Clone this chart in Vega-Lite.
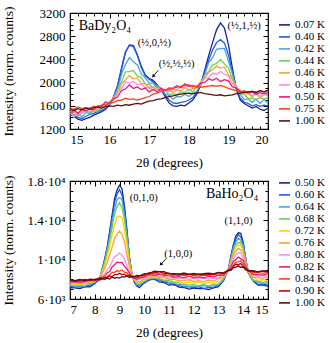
{
"$schema": "https://vega.github.io/schema/vega-lite/v6.json",
"padding": {"left": 0, "top": 5, "right": 2, "bottom": 2},
"config": {
 "font": "Liberation Serif",
 "view": {"stroke": "black", "strokeWidth": 1.2},
 "axis": {"domain": false, "grid": false, "tickColor": "black", "tickWidth": 1, "labelColor": "black", "titleColor": "black", "labelFont": "Liberation Serif", "titleFont": "Liberation Serif", "labelFontSize": 13, "titleFontSize": 13.5, "titleFontWeight": "normal"},
 "legend": {"symbolType": "stroke", "symbolSize": 121, "symbolStrokeWidth": 1.6, "labelFont": "Liberation Serif", "labelFontSize": 11, "labelColor": "black", "rowPadding": 0, "labelOffset": 4, "padding": 0, "labelLimit": 100}
},
"datasets": {
 "dyframe": [{"x": 15, "y": 1200}],
 "hoframe": [{"x": 7, "y": 6000}],
 "dyname": [{"x": 15.22, "y": 2980, "label": "BaDy₂O₄"}],
 "honame": [{"x": 12.49, "y": 16650, "label": "BaHo₂O₄"}],
 "dylab": [{"x": 16.71, "y": 2688, "label": "(½,0,½)"}, {"x": 17.24, "y": 2315, "label": "(½,½,½)"}, {"x": 18.98, "y": 2976, "label": "(½,1,½)"}],
 "holab": [{"x": 9.41, "y": 16256, "label": "(0,1,0)"}, {"x": 13.24, "y": 13969, "label": "(1,1,0)"}, {"x": 10.81, "y": 10544, "label": "(1,0,0)"}],
 "dyarr": [{"x": 17.23, "y": 2212, "x2": 17.1, "y2": 2109}],
 "hoarr": [{"x": 10.88, "y": 10100, "x2": 10.67, "y2": 9520}],
 "dy": [
{"T":"0.07 K","x":15,"y":1460},{"T":"0.07 K","x":15.1,"y":1420},{"T":"0.07 K","x":15.2,"y":1370},{"T":"0.07 K","x":15.3,"y":1350},{"T":"0.07 K","x":15.4,"y":1380},{"T":"0.07 K","x":15.5,"y":1400},{"T":"0.07 K","x":15.6,"y":1440},{"T":"0.07 K","x":15.7,"y":1470},{"T":"0.07 K","x":15.8,"y":1500},{"T":"0.07 K","x":15.9,"y":1540},
{"T":"0.07 K","x":16,"y":1610},{"T":"0.07 K","x":16.1,"y":1740},{"T":"0.07 K","x":16.2,"y":1920},{"T":"0.07 K","x":16.3,"y":2230},{"T":"0.07 K","x":16.4,"y":2520},{"T":"0.07 K","x":16.5,"y":2650},{"T":"0.07 K","x":16.6,"y":2640},{"T":"0.07 K","x":16.7,"y":2480},{"T":"0.07 K","x":16.8,"y":2280},{"T":"0.07 K","x":16.9,"y":2130},
{"T":"0.07 K","x":17,"y":2070},{"T":"0.07 K","x":17.1,"y":2040},{"T":"0.07 K","x":17.2,"y":1960},{"T":"0.07 K","x":17.3,"y":1880},{"T":"0.07 K","x":17.4,"y":1760},{"T":"0.07 K","x":17.5,"y":1650},{"T":"0.07 K","x":17.6,"y":1600},{"T":"0.07 K","x":17.7,"y":1590},{"T":"0.07 K","x":17.8,"y":1610},{"T":"0.07 K","x":17.9,"y":1600},
{"T":"0.07 K","x":18,"y":1650},{"T":"0.07 K","x":18.1,"y":1700},{"T":"0.07 K","x":18.2,"y":1800},{"T":"0.07 K","x":18.3,"y":1960},{"T":"0.07 K","x":18.4,"y":2210},{"T":"0.07 K","x":18.5,"y":2460},{"T":"0.07 K","x":18.6,"y":2690},{"T":"0.07 K","x":18.7,"y":2910},{"T":"0.07 K","x":18.8,"y":3030},{"T":"0.07 K","x":18.9,"y":2940},
{"T":"0.07 K","x":19,"y":2660},{"T":"0.07 K","x":19.1,"y":2250},{"T":"0.07 K","x":19.2,"y":1880},{"T":"0.07 K","x":19.3,"y":1700},{"T":"0.07 K","x":19.4,"y":1640},{"T":"0.07 K","x":19.5,"y":1600},{"T":"0.07 K","x":19.6,"y":1560},{"T":"0.07 K","x":19.7,"y":1590},{"T":"0.07 K","x":19.8,"y":1540},{"T":"0.07 K","x":19.9,"y":1520},{"T":"0.07 K","x":20,"y":1560},
{"T":"0.40 K","x":15,"y":1430},{"T":"0.40 K","x":15.1,"y":1440},{"T":"0.40 K","x":15.2,"y":1400},{"T":"0.40 K","x":15.3,"y":1380},{"T":"0.40 K","x":15.4,"y":1420},{"T":"0.40 K","x":15.5,"y":1450},{"T":"0.40 K","x":15.6,"y":1470},{"T":"0.40 K","x":15.7,"y":1500},{"T":"0.40 K","x":15.8,"y":1520},{"T":"0.40 K","x":15.9,"y":1560},
{"T":"0.40 K","x":16,"y":1620},{"T":"0.40 K","x":16.1,"y":1760},{"T":"0.40 K","x":16.2,"y":1950},{"T":"0.40 K","x":16.3,"y":2250},{"T":"0.40 K","x":16.4,"y":2530},{"T":"0.40 K","x":16.5,"y":2640},{"T":"0.40 K","x":16.6,"y":2620},{"T":"0.40 K","x":16.7,"y":2470},{"T":"0.40 K","x":16.8,"y":2260},{"T":"0.40 K","x":16.9,"y":2120},
{"T":"0.40 K","x":17,"y":2060},{"T":"0.40 K","x":17.1,"y":2010},{"T":"0.40 K","x":17.2,"y":1950},{"T":"0.40 K","x":17.3,"y":1880},{"T":"0.40 K","x":17.4,"y":1790},{"T":"0.40 K","x":17.5,"y":1700},{"T":"0.40 K","x":17.6,"y":1650},{"T":"0.40 K","x":17.7,"y":1640},{"T":"0.40 K","x":17.8,"y":1660},{"T":"0.40 K","x":17.9,"y":1670},
{"T":"0.40 K","x":18,"y":1700},{"T":"0.40 K","x":18.1,"y":1740},{"T":"0.40 K","x":18.2,"y":1830},{"T":"0.40 K","x":18.3,"y":1960},{"T":"0.40 K","x":18.4,"y":2180},{"T":"0.40 K","x":18.5,"y":2380},{"T":"0.40 K","x":18.6,"y":2560},{"T":"0.40 K","x":18.7,"y":2690},{"T":"0.40 K","x":18.8,"y":2740},{"T":"0.40 K","x":18.9,"y":2680},
{"T":"0.40 K","x":19,"y":2480},{"T":"0.40 K","x":19.1,"y":2180},{"T":"0.40 K","x":19.2,"y":1900},{"T":"0.40 K","x":19.3,"y":1730},{"T":"0.40 K","x":19.4,"y":1660},{"T":"0.40 K","x":19.5,"y":1640},{"T":"0.40 K","x":19.6,"y":1600},{"T":"0.40 K","x":19.7,"y":1620},{"T":"0.40 K","x":19.8,"y":1590},{"T":"0.40 K","x":19.9,"y":1610},{"T":"0.40 K","x":20,"y":1600},
{"T":"0.42 K","x":15,"y":1510},{"T":"0.42 K","x":15.1,"y":1440},{"T":"0.42 K","x":15.2,"y":1460},{"T":"0.42 K","x":15.3,"y":1410},{"T":"0.42 K","x":15.4,"y":1485},{"T":"0.42 K","x":15.5,"y":1460},{"T":"0.42 K","x":15.6,"y":1515},{"T":"0.42 K","x":15.7,"y":1500},{"T":"0.42 K","x":15.8,"y":1560},{"T":"0.42 K","x":15.9,"y":1610},
{"T":"0.42 K","x":16,"y":1620},{"T":"0.42 K","x":16.1,"y":1745},{"T":"0.42 K","x":16.2,"y":1875},{"T":"0.42 K","x":16.3,"y":2140},{"T":"0.42 K","x":16.4,"y":2310},{"T":"0.42 K","x":16.5,"y":2430},{"T":"0.42 K","x":16.6,"y":2360},{"T":"0.42 K","x":16.7,"y":2305},{"T":"0.42 K","x":16.8,"y":2150},{"T":"0.42 K","x":16.9,"y":2085},
{"T":"0.42 K","x":17,"y":1990},{"T":"0.42 K","x":17.1,"y":1990},{"T":"0.42 K","x":17.2,"y":1910},{"T":"0.42 K","x":17.3,"y":1910},{"T":"0.42 K","x":17.4,"y":1805},{"T":"0.42 K","x":17.5,"y":1780},{"T":"0.42 K","x":17.6,"y":1715},{"T":"0.42 K","x":17.7,"y":1760},{"T":"0.42 K","x":17.8,"y":1755},{"T":"0.42 K","x":17.9,"y":1800},
{"T":"0.42 K","x":18,"y":1760},{"T":"0.42 K","x":18.1,"y":1810},{"T":"0.42 K","x":18.2,"y":1850},{"T":"0.42 K","x":18.3,"y":1980},{"T":"0.42 K","x":18.4,"y":2130},{"T":"0.42 K","x":18.5,"y":2340},{"T":"0.42 K","x":18.6,"y":2430},{"T":"0.42 K","x":18.7,"y":2575},{"T":"0.42 K","x":18.8,"y":2590},{"T":"0.42 K","x":18.9,"y":2585},
{"T":"0.42 K","x":19,"y":2370},{"T":"0.42 K","x":19.1,"y":2155},{"T":"0.42 K","x":19.2,"y":1900},{"T":"0.42 K","x":19.3,"y":1800},{"T":"0.42 K","x":19.4,"y":1705},{"T":"0.42 K","x":19.5,"y":1720},{"T":"0.42 K","x":19.6,"y":1660},{"T":"0.42 K","x":19.7,"y":1715},{"T":"0.42 K","x":19.8,"y":1640},{"T":"0.42 K","x":19.9,"y":1710},{"T":"0.42 K","x":20,"y":1645},
{"T":"0.44 K","x":15,"y":1460},{"T":"0.44 K","x":15.1,"y":1515},{"T":"0.44 K","x":15.2,"y":1420},{"T":"0.44 K","x":15.3,"y":1470},{"T":"0.44 K","x":15.4,"y":1520},{"T":"0.44 K","x":15.5,"y":1480},{"T":"0.44 K","x":15.6,"y":1525},{"T":"0.44 K","x":15.7,"y":1515},{"T":"0.44 K","x":15.8,"y":1590},{"T":"0.44 K","x":15.9,"y":1590},
{"T":"0.44 K","x":16,"y":1680},{"T":"0.44 K","x":16.1,"y":1710},{"T":"0.44 K","x":16.2,"y":1875},{"T":"0.44 K","x":16.3,"y":2010},{"T":"0.44 K","x":16.4,"y":2185},{"T":"0.44 K","x":16.5,"y":2190},{"T":"0.44 K","x":16.6,"y":2210},{"T":"0.44 K","x":16.7,"y":2110},{"T":"0.44 K","x":16.8,"y":2090},{"T":"0.44 K","x":16.9,"y":1975},
{"T":"0.44 K","x":17,"y":1970},{"T":"0.44 K","x":17.1,"y":1915},{"T":"0.44 K","x":17.2,"y":1940},{"T":"0.44 K","x":17.3,"y":1875},{"T":"0.44 K","x":17.4,"y":1880},{"T":"0.44 K","x":17.5,"y":1790},{"T":"0.44 K","x":17.6,"y":1810},{"T":"0.44 K","x":17.7,"y":1790},{"T":"0.44 K","x":17.8,"y":1840},{"T":"0.44 K","x":17.9,"y":1830},
{"T":"0.44 K","x":18,"y":1880},{"T":"0.44 K","x":18.1,"y":1840},{"T":"0.44 K","x":18.2,"y":1925},{"T":"0.44 K","x":18.3,"y":1970},{"T":"0.44 K","x":18.4,"y":2125},{"T":"0.44 K","x":18.5,"y":2190},{"T":"0.44 K","x":18.6,"y":2305},{"T":"0.44 K","x":18.7,"y":2330},{"T":"0.44 K","x":18.8,"y":2400},{"T":"0.44 K","x":18.9,"y":2325},
{"T":"0.44 K","x":19,"y":2250},{"T":"0.44 K","x":19.1,"y":2060},{"T":"0.44 K","x":19.2,"y":1945},{"T":"0.44 K","x":19.3,"y":1800},{"T":"0.44 K","x":19.4,"y":1800},{"T":"0.44 K","x":19.5,"y":1725},{"T":"0.44 K","x":19.6,"y":1730},{"T":"0.44 K","x":19.7,"y":1710},{"T":"0.44 K","x":19.8,"y":1740},{"T":"0.44 K","x":19.9,"y":1720},{"T":"0.44 K","x":20,"y":1735},
{"T":"0.46 K","x":15,"y":1500},{"T":"0.46 K","x":15.1,"y":1495},{"T":"0.46 K","x":15.2,"y":1455},{"T":"0.46 K","x":15.3,"y":1520},{"T":"0.46 K","x":15.4,"y":1500},{"T":"0.46 K","x":15.5,"y":1560},{"T":"0.46 K","x":15.6,"y":1510},{"T":"0.46 K","x":15.7,"y":1575},{"T":"0.46 K","x":15.8,"y":1570},{"T":"0.46 K","x":15.9,"y":1635},
{"T":"0.46 K","x":16,"y":1640},{"T":"0.46 K","x":16.1,"y":1740},{"T":"0.46 K","x":16.2,"y":1800},{"T":"0.46 K","x":16.3,"y":1980},{"T":"0.46 K","x":16.4,"y":2045},{"T":"0.46 K","x":16.5,"y":2120},{"T":"0.46 K","x":16.6,"y":2065},{"T":"0.46 K","x":16.7,"y":2080},{"T":"0.46 K","x":16.8,"y":1985},{"T":"0.46 K","x":16.9,"y":1980},
{"T":"0.46 K","x":17,"y":1900},{"T":"0.46 K","x":17.1,"y":1920},{"T":"0.46 K","x":17.2,"y":1880},{"T":"0.46 K","x":17.3,"y":1900},{"T":"0.46 K","x":17.4,"y":1850},{"T":"0.46 K","x":17.5,"y":1880},{"T":"0.46 K","x":17.6,"y":1830},{"T":"0.46 K","x":17.7,"y":1875},{"T":"0.46 K","x":17.8,"y":1860},{"T":"0.46 K","x":17.9,"y":1915},
{"T":"0.46 K","x":18,"y":1870},{"T":"0.46 K","x":18.1,"y":1895},{"T":"0.46 K","x":18.2,"y":1910},{"T":"0.46 K","x":18.3,"y":2020},{"T":"0.46 K","x":18.4,"y":2065},{"T":"0.46 K","x":18.5,"y":2180},{"T":"0.46 K","x":18.6,"y":2220},{"T":"0.46 K","x":18.7,"y":2285},{"T":"0.46 K","x":18.8,"y":2250},{"T":"0.46 K","x":18.9,"y":2270},
{"T":"0.46 K","x":19,"y":2135},{"T":"0.46 K","x":19.1,"y":2050},{"T":"0.46 K","x":19.2,"y":1900},{"T":"0.46 K","x":19.3,"y":1870},{"T":"0.46 K","x":19.4,"y":1800},{"T":"0.46 K","x":19.5,"y":1815},{"T":"0.46 K","x":19.6,"y":1750},{"T":"0.46 K","x":19.7,"y":1805},{"T":"0.46 K","x":19.8,"y":1740},{"T":"0.46 K","x":19.9,"y":1790},{"T":"0.46 K","x":20,"y":1790},
{"T":"0.48 K","x":15,"y":1490},{"T":"0.48 K","x":15.1,"y":1410},{"T":"0.48 K","x":15.2,"y":1485},{"T":"0.48 K","x":15.3,"y":1480},{"T":"0.48 K","x":15.4,"y":1525},{"T":"0.48 K","x":15.5,"y":1500},{"T":"0.48 K","x":15.6,"y":1550},{"T":"0.48 K","x":15.7,"y":1530},{"T":"0.48 K","x":15.8,"y":1620},{"T":"0.48 K","x":15.9,"y":1605},
{"T":"0.48 K","x":16,"y":1670},{"T":"0.48 K","x":16.1,"y":1695},{"T":"0.48 K","x":16.2,"y":1820},{"T":"0.48 K","x":16.3,"y":1895},{"T":"0.48 K","x":16.4,"y":2010},{"T":"0.48 K","x":16.5,"y":1990},{"T":"0.48 K","x":16.6,"y":2020},{"T":"0.48 K","x":16.7,"y":1970},{"T":"0.48 K","x":16.8,"y":1970},{"T":"0.48 K","x":16.9,"y":1910},
{"T":"0.48 K","x":17,"y":1930},{"T":"0.48 K","x":17.1,"y":1870},{"T":"0.48 K","x":17.2,"y":1895},{"T":"0.48 K","x":17.3,"y":1860},{"T":"0.48 K","x":17.4,"y":1885},{"T":"0.48 K","x":17.5,"y":1840},{"T":"0.48 K","x":17.6,"y":1885},{"T":"0.48 K","x":17.7,"y":1870},{"T":"0.48 K","x":17.8,"y":1930},{"T":"0.48 K","x":17.9,"y":1905},
{"T":"0.48 K","x":18,"y":1950},{"T":"0.48 K","x":18.1,"y":1910},{"T":"0.48 K","x":18.2,"y":1955},{"T":"0.48 K","x":18.3,"y":1960},{"T":"0.48 K","x":18.4,"y":2080},{"T":"0.48 K","x":18.5,"y":2085},{"T":"0.48 K","x":18.6,"y":2160},{"T":"0.48 K","x":18.7,"y":2140},{"T":"0.48 K","x":18.8,"y":2190},{"T":"0.48 K","x":18.9,"y":2140},
{"T":"0.48 K","x":19,"y":2115},{"T":"0.48 K","x":19.1,"y":1980},{"T":"0.48 K","x":19.2,"y":1935},{"T":"0.48 K","x":19.3,"y":1830},{"T":"0.48 K","x":19.4,"y":1840},{"T":"0.48 K","x":19.5,"y":1840},{"T":"0.48 K","x":19.6,"y":1770},{"T":"0.48 K","x":19.7,"y":1815},{"T":"0.48 K","x":19.8,"y":1765},{"T":"0.48 K","x":19.9,"y":1820},{"T":"0.48 K","x":20,"y":1770},
{"T":"0.50 K","x":15,"y":1470},{"T":"0.50 K","x":15.1,"y":1530},{"T":"0.50 K","x":15.2,"y":1470},{"T":"0.50 K","x":15.3,"y":1540},{"T":"0.50 K","x":15.4,"y":1515},{"T":"0.50 K","x":15.5,"y":1550},{"T":"0.50 K","x":15.6,"y":1535},{"T":"0.50 K","x":15.7,"y":1600},{"T":"0.50 K","x":15.8,"y":1595},{"T":"0.50 K","x":15.9,"y":1670},
{"T":"0.50 K","x":16,"y":1640},{"T":"0.50 K","x":16.1,"y":1720},{"T":"0.50 K","x":16.2,"y":1750},{"T":"0.50 K","x":16.3,"y":1860},{"T":"0.50 K","x":16.4,"y":1890},{"T":"0.50 K","x":16.5,"y":1960},{"T":"0.50 K","x":16.6,"y":1900},{"T":"0.50 K","x":16.7,"y":1925},{"T":"0.50 K","x":16.8,"y":1880},{"T":"0.50 K","x":16.9,"y":1905},
{"T":"0.50 K","x":17,"y":1840},{"T":"0.50 K","x":17.1,"y":1885},{"T":"0.50 K","x":17.2,"y":1840},{"T":"0.50 K","x":17.3,"y":1900},{"T":"0.50 K","x":17.4,"y":1865},{"T":"0.50 K","x":17.5,"y":1910},{"T":"0.50 K","x":17.6,"y":1900},{"T":"0.50 K","x":17.7,"y":1945},{"T":"0.50 K","x":17.8,"y":1910},{"T":"0.50 K","x":17.9,"y":1980},
{"T":"0.50 K","x":18,"y":1935},{"T":"0.50 K","x":18.1,"y":1950},{"T":"0.50 K","x":18.2,"y":1920},{"T":"0.50 K","x":18.3,"y":1990},{"T":"0.50 K","x":18.4,"y":2000},{"T":"0.50 K","x":18.5,"y":2065},{"T":"0.50 K","x":18.6,"y":2040},{"T":"0.50 K","x":18.7,"y":2075},{"T":"0.50 K","x":18.8,"y":2020},{"T":"0.50 K","x":18.9,"y":2050},
{"T":"0.50 K","x":19,"y":2030},{"T":"0.50 K","x":19.1,"y":1930},{"T":"0.50 K","x":19.2,"y":1905},{"T":"0.50 K","x":19.3,"y":1835},{"T":"0.50 K","x":19.4,"y":1860},{"T":"0.50 K","x":19.5,"y":1820},{"T":"0.50 K","x":19.6,"y":1840},{"T":"0.50 K","x":19.7,"y":1800},{"T":"0.50 K","x":19.8,"y":1825},{"T":"0.50 K","x":19.9,"y":1810},{"T":"0.50 K","x":20,"y":1825},
{"T":"0.75 K","x":15,"y":1560},{"T":"0.75 K","x":15.1,"y":1540},{"T":"0.75 K","x":15.2,"y":1580},{"T":"0.75 K","x":15.3,"y":1550},{"T":"0.75 K","x":15.4,"y":1570},{"T":"0.75 K","x":15.5,"y":1560},{"T":"0.75 K","x":15.6,"y":1590},{"T":"0.75 K","x":15.7,"y":1580},{"T":"0.75 K","x":15.8,"y":1610},{"T":"0.75 K","x":15.9,"y":1620},
{"T":"0.75 K","x":16,"y":1640},{"T":"0.75 K","x":16.1,"y":1660},{"T":"0.75 K","x":16.2,"y":1690},{"T":"0.75 K","x":16.3,"y":1700},{"T":"0.75 K","x":16.4,"y":1730},{"T":"0.75 K","x":16.5,"y":1710},{"T":"0.75 K","x":16.6,"y":1720},{"T":"0.75 K","x":16.7,"y":1700},{"T":"0.75 K","x":16.8,"y":1720},{"T":"0.75 K","x":16.9,"y":1740},
{"T":"0.75 K","x":17,"y":1760},{"T":"0.75 K","x":17.1,"y":1800},{"T":"0.75 K","x":17.2,"y":1820},{"T":"0.75 K","x":17.3,"y":1850},{"T":"0.75 K","x":17.4,"y":1870},{"T":"0.75 K","x":17.5,"y":1880},{"T":"0.75 K","x":17.6,"y":1900},{"T":"0.75 K","x":17.7,"y":1920},{"T":"0.75 K","x":17.8,"y":1940},{"T":"0.75 K","x":17.9,"y":1950},
{"T":"0.75 K","x":18,"y":1960},{"T":"0.75 K","x":18.1,"y":1940},{"T":"0.75 K","x":18.2,"y":1930},{"T":"0.75 K","x":18.3,"y":1920},{"T":"0.75 K","x":18.4,"y":1930},{"T":"0.75 K","x":18.5,"y":1940},{"T":"0.75 K","x":18.6,"y":1950},{"T":"0.75 K","x":18.7,"y":1940},{"T":"0.75 K","x":18.8,"y":1950},{"T":"0.75 K","x":18.9,"y":1930},
{"T":"0.75 K","x":19,"y":1900},{"T":"0.75 K","x":19.1,"y":1880},{"T":"0.75 K","x":19.2,"y":1860},{"T":"0.75 K","x":19.3,"y":1850},{"T":"0.75 K","x":19.4,"y":1840},{"T":"0.75 K","x":19.5,"y":1830},{"T":"0.75 K","x":19.6,"y":1850},{"T":"0.75 K","x":19.7,"y":1830},{"T":"0.75 K","x":19.8,"y":1860},{"T":"0.75 K","x":19.9,"y":1840},{"T":"0.75 K","x":20,"y":1860},
{"T":"1.00 K","x":15,"y":1540},{"T":"1.00 K","x":15.1,"y":1520},{"T":"1.00 K","x":15.2,"y":1550},{"T":"1.00 K","x":15.3,"y":1530},{"T":"1.00 K","x":15.4,"y":1560},{"T":"1.00 K","x":15.5,"y":1540},{"T":"1.00 K","x":15.6,"y":1570},{"T":"1.00 K","x":15.7,"y":1580},{"T":"1.00 K","x":15.8,"y":1560},{"T":"1.00 K","x":15.9,"y":1590},
{"T":"1.00 K","x":16,"y":1600},{"T":"1.00 K","x":16.1,"y":1590},{"T":"1.00 K","x":16.2,"y":1610},{"T":"1.00 K","x":16.3,"y":1600},{"T":"1.00 K","x":16.4,"y":1620},{"T":"1.00 K","x":16.5,"y":1610},{"T":"1.00 K","x":16.6,"y":1630},{"T":"1.00 K","x":16.7,"y":1640},{"T":"1.00 K","x":16.8,"y":1630},{"T":"1.00 K","x":16.9,"y":1660},
{"T":"1.00 K","x":17,"y":1680},{"T":"1.00 K","x":17.1,"y":1690},{"T":"1.00 K","x":17.2,"y":1710},{"T":"1.00 K","x":17.3,"y":1720},{"T":"1.00 K","x":17.4,"y":1740},{"T":"1.00 K","x":17.5,"y":1760},{"T":"1.00 K","x":17.6,"y":1770},{"T":"1.00 K","x":17.7,"y":1790},{"T":"1.00 K","x":17.8,"y":1800},{"T":"1.00 K","x":17.9,"y":1810},
{"T":"1.00 K","x":18,"y":1820},{"T":"1.00 K","x":18.1,"y":1810},{"T":"1.00 K","x":18.2,"y":1820},{"T":"1.00 K","x":18.3,"y":1830},{"T":"1.00 K","x":18.4,"y":1810},{"T":"1.00 K","x":18.5,"y":1800},{"T":"1.00 K","x":18.6,"y":1790},{"T":"1.00 K","x":18.7,"y":1780},{"T":"1.00 K","x":18.8,"y":1790},{"T":"1.00 K","x":18.9,"y":1770},
{"T":"1.00 K","x":19,"y":1780},{"T":"1.00 K","x":19.1,"y":1790},{"T":"1.00 K","x":19.2,"y":1810},{"T":"1.00 K","x":19.3,"y":1820},{"T":"1.00 K","x":19.4,"y":1830},{"T":"1.00 K","x":19.5,"y":1840},{"T":"1.00 K","x":19.6,"y":1850},{"T":"1.00 K","x":19.7,"y":1830},{"T":"1.00 K","x":19.8,"y":1860},{"T":"1.00 K","x":19.9,"y":1840},{"T":"1.00 K","x":20,"y":1870}
 ],
 "ho": [
{"T":"0.50 K","x":7,"y":7150},{"T":"0.50 K","x":7.2,"y":7140},{"T":"0.50 K","x":7.4,"y":7060},{"T":"0.50 K","x":7.6,"y":7250},{"T":"0.50 K","x":7.8,"y":7230},{"T":"0.50 K","x":8,"y":7580},{"T":"0.50 K","x":8.2,"y":8010},{"T":"0.50 K","x":8.4,"y":10030},{"T":"0.50 K","x":8.5,"y":11260},{"T":"0.50 K","x":8.6,"y":12840},
{"T":"0.50 K","x":8.7,"y":14510},{"T":"0.50 K","x":8.8,"y":16210},{"T":"0.50 K","x":8.9,"y":17080},{"T":"0.50 K","x":9,"y":17570},{"T":"0.50 K","x":9.1,"y":17220},{"T":"0.50 K","x":9.2,"y":15440},{"T":"0.50 K","x":9.3,"y":13060},{"T":"0.50 K","x":9.4,"y":10230},{"T":"0.50 K","x":9.5,"y":8620},{"T":"0.50 K","x":9.6,"y":7690},
{"T":"0.50 K","x":9.7,"y":7380},{"T":"0.50 K","x":9.8,"y":7150},{"T":"0.50 K","x":10,"y":7640},{"T":"0.50 K","x":10.2,"y":7930},{"T":"0.50 K","x":10.4,"y":8070},{"T":"0.50 K","x":10.6,"y":7740},{"T":"0.50 K","x":10.8,"y":7680},{"T":"0.50 K","x":11,"y":7420},{"T":"0.50 K","x":11.2,"y":7500},{"T":"0.50 K","x":11.4,"y":7210},
{"T":"0.50 K","x":11.6,"y":7170},{"T":"0.50 K","x":11.8,"y":7010},{"T":"0.50 K","x":12,"y":7100},{"T":"0.50 K","x":12.2,"y":7050},{"T":"0.50 K","x":12.4,"y":7080},{"T":"0.50 K","x":12.6,"y":6950},{"T":"0.50 K","x":12.8,"y":7130},{"T":"0.50 K","x":13,"y":7260},{"T":"0.50 K","x":13.2,"y":7900},{"T":"0.50 K","x":13.4,"y":9030},
{"T":"0.50 K","x":13.5,"y":10390},{"T":"0.50 K","x":13.6,"y":11490},{"T":"0.50 K","x":13.7,"y":12410},{"T":"0.50 K","x":13.8,"y":12730},{"T":"0.50 K","x":13.9,"y":12680},{"T":"0.50 K","x":14,"y":11730},{"T":"0.50 K","x":14.1,"y":10100},{"T":"0.50 K","x":14.2,"y":8700},{"T":"0.50 K","x":14.4,"y":7830},{"T":"0.50 K","x":14.6,"y":7410},{"T":"0.50 K","x":14.8,"y":7410},{"T":"0.50 K","x":15,"y":7310},
{"T":"0.60 K","x":7,"y":7300},{"T":"0.60 K","x":7.2,"y":7200},{"T":"0.60 K","x":7.4,"y":7270},{"T":"0.60 K","x":7.6,"y":7230},{"T":"0.60 K","x":7.8,"y":7440},{"T":"0.60 K","x":8,"y":7570},{"T":"0.60 K","x":8.2,"y":8150},{"T":"0.60 K","x":8.4,"y":10010},{"T":"0.60 K","x":8.5,"y":11090},{"T":"0.60 K","x":8.6,"y":12570},
{"T":"0.60 K","x":8.7,"y":14190},{"T":"0.60 K","x":8.8,"y":15820},{"T":"0.60 K","x":8.9,"y":16670},{"T":"0.60 K","x":9,"y":17140},{"T":"0.60 K","x":9.1,"y":16560},{"T":"0.60 K","x":9.2,"y":15150},{"T":"0.60 K","x":9.3,"y":12780},{"T":"0.60 K","x":9.4,"y":10270},{"T":"0.60 K","x":9.5,"y":8500},{"T":"0.60 K","x":9.6,"y":7810},
{"T":"0.60 K","x":9.7,"y":7300},{"T":"0.60 K","x":9.8,"y":7450},{"T":"0.60 K","x":10,"y":7610},{"T":"0.60 K","x":10.2,"y":8020},{"T":"0.60 K","x":10.4,"y":7980},{"T":"0.60 K","x":10.6,"y":7950},{"T":"0.60 K","x":10.8,"y":7740},{"T":"0.60 K","x":11,"y":7680},{"T":"0.60 K","x":11.2,"y":7410},{"T":"0.60 K","x":11.4,"y":7380},
{"T":"0.60 K","x":11.6,"y":7200},{"T":"0.60 K","x":11.8,"y":7260},{"T":"0.60 K","x":12,"y":7130},{"T":"0.60 K","x":12.2,"y":7260},{"T":"0.60 K","x":12.4,"y":7060},{"T":"0.60 K","x":12.6,"y":7190},{"T":"0.60 K","x":12.8,"y":7170},{"T":"0.60 K","x":13,"y":7470},{"T":"0.60 K","x":13.2,"y":7820},{"T":"0.60 K","x":13.4,"y":9050},
{"T":"0.60 K","x":13.5,"y":10160},{"T":"0.60 K","x":13.6,"y":11470},{"T":"0.60 K","x":13.7,"y":12110},{"T":"0.60 K","x":13.8,"y":12570},{"T":"0.60 K","x":13.9,"y":12300},{"T":"0.60 K","x":14,"y":11620},{"T":"0.60 K","x":14.1,"y":10080},{"T":"0.60 K","x":14.2,"y":8720},{"T":"0.60 K","x":14.4,"y":7900},{"T":"0.60 K","x":14.6,"y":7480},{"T":"0.60 K","x":14.8,"y":7510},{"T":"0.60 K","x":15,"y":7410},
{"T":"0.64 K","x":7,"y":7440},{"T":"0.64 K","x":7.2,"y":7260},{"T":"0.64 K","x":7.4,"y":7340},{"T":"0.64 K","x":7.6,"y":7310},{"T":"0.64 K","x":7.8,"y":7550},{"T":"0.64 K","x":8,"y":7680},{"T":"0.64 K","x":8.2,"y":8220},{"T":"0.64 K","x":8.4,"y":9700},{"T":"0.64 K","x":8.5,"y":10970},{"T":"0.64 K","x":8.6,"y":12210},
{"T":"0.64 K","x":8.7,"y":13860},{"T":"0.64 K","x":8.8,"y":15120},{"T":"0.64 K","x":8.9,"y":16080},{"T":"0.64 K","x":9,"y":16310},{"T":"0.64 K","x":9.1,"y":16120},{"T":"0.64 K","x":9.2,"y":14560},{"T":"0.64 K","x":9.3,"y":12490},{"T":"0.64 K","x":9.4,"y":10010},{"T":"0.64 K","x":9.5,"y":8630},{"T":"0.64 K","x":9.6,"y":7840},
{"T":"0.64 K","x":9.7,"y":7560},{"T":"0.64 K","x":9.8,"y":7360},{"T":"0.64 K","x":10,"y":7780},{"T":"0.64 K","x":10.2,"y":8050},{"T":"0.64 K","x":10.4,"y":8210},{"T":"0.64 K","x":10.6,"y":7980},{"T":"0.64 K","x":10.8,"y":7940},{"T":"0.64 K","x":11,"y":7640},{"T":"0.64 K","x":11.2,"y":7640},{"T":"0.64 K","x":11.4,"y":7450},
{"T":"0.64 K","x":11.6,"y":7450},{"T":"0.64 K","x":11.8,"y":7250},{"T":"0.64 K","x":12,"y":7310},{"T":"0.64 K","x":12.2,"y":7260},{"T":"0.64 K","x":12.4,"y":7370},{"T":"0.64 K","x":12.6,"y":7260},{"T":"0.64 K","x":12.8,"y":7410},{"T":"0.64 K","x":13,"y":7440},{"T":"0.64 K","x":13.2,"y":7960},{"T":"0.64 K","x":13.4,"y":9050},
{"T":"0.64 K","x":13.5,"y":10020},{"T":"0.64 K","x":13.6,"y":11210},{"T":"0.64 K","x":13.7,"y":11760},{"T":"0.64 K","x":13.8,"y":12190},{"T":"0.64 K","x":13.9,"y":11940},{"T":"0.64 K","x":14,"y":11400},{"T":"0.64 K","x":14.1,"y":9880},{"T":"0.64 K","x":14.2,"y":8830},{"T":"0.64 K","x":14.4,"y":7860},{"T":"0.64 K","x":14.6,"y":7710},{"T":"0.64 K","x":14.8,"y":7540},{"T":"0.64 K","x":15,"y":7670},
{"T":"0.68 K","x":7,"y":7350},{"T":"0.68 K","x":7.2,"y":7450},{"T":"0.68 K","x":7.4,"y":7400},{"T":"0.68 K","x":7.6,"y":7560},{"T":"0.68 K","x":7.8,"y":7500},{"T":"0.68 K","x":8,"y":7790},{"T":"0.68 K","x":8.2,"y":8070},{"T":"0.68 K","x":8.4,"y":9770},{"T":"0.68 K","x":8.5,"y":10670},{"T":"0.68 K","x":8.6,"y":11920},
{"T":"0.68 K","x":8.7,"y":13270},{"T":"0.68 K","x":8.8,"y":14660},{"T":"0.68 K","x":8.9,"y":15400},{"T":"0.68 K","x":9,"y":15800},{"T":"0.68 K","x":9.1,"y":15290},{"T":"0.68 K","x":9.2,"y":14110},{"T":"0.68 K","x":9.3,"y":12090},{"T":"0.68 K","x":9.4,"y":10010},{"T":"0.68 K","x":9.5,"y":8550},{"T":"0.68 K","x":9.6,"y":7990},
{"T":"0.68 K","x":9.7,"y":7500},{"T":"0.68 K","x":9.8,"y":7590},{"T":"0.68 K","x":10,"y":7790},{"T":"0.68 K","x":10.2,"y":8220},{"T":"0.68 K","x":10.4,"y":8120},{"T":"0.68 K","x":10.6,"y":8090},{"T":"0.68 K","x":10.8,"y":7900},{"T":"0.68 K","x":11,"y":7890},{"T":"0.68 K","x":11.2,"y":7660},{"T":"0.68 K","x":11.4,"y":7640},
{"T":"0.68 K","x":11.6,"y":7410},{"T":"0.68 K","x":11.8,"y":7430},{"T":"0.68 K","x":12,"y":7460},{"T":"0.68 K","x":12.2,"y":7370},{"T":"0.68 K","x":12.4,"y":7460},{"T":"0.68 K","x":12.6,"y":7330},{"T":"0.68 K","x":12.8,"y":7480},{"T":"0.68 K","x":13,"y":7510},{"T":"0.68 K","x":13.2,"y":8070},{"T":"0.68 K","x":13.4,"y":8930},
{"T":"0.68 K","x":13.5,"y":9980},{"T":"0.68 K","x":13.6,"y":10820},{"T":"0.68 K","x":13.7,"y":11550},{"T":"0.68 K","x":13.8,"y":11730},{"T":"0.68 K","x":13.9,"y":11720},{"T":"0.68 K","x":14,"y":11170},{"T":"0.68 K","x":14.1,"y":9730},{"T":"0.68 K","x":14.2,"y":8760},{"T":"0.68 K","x":14.4,"y":7920},{"T":"0.68 K","x":14.6,"y":7820},{"T":"0.68 K","x":14.8,"y":7700},{"T":"0.68 K","x":15,"y":7830},
{"T":"0.72 K","x":7,"y":7650},{"T":"0.72 K","x":7.2,"y":7480},{"T":"0.72 K","x":7.4,"y":7570},{"T":"0.72 K","x":7.6,"y":7510},{"T":"0.72 K","x":7.8,"y":7710},{"T":"0.72 K","x":8,"y":7810},{"T":"0.72 K","x":8.2,"y":8240},{"T":"0.72 K","x":8.4,"y":9340},{"T":"0.72 K","x":8.5,"y":10330},{"T":"0.72 K","x":8.6,"y":11250},
{"T":"0.72 K","x":8.7,"y":12560},{"T":"0.72 K","x":8.8,"y":13560},{"T":"0.72 K","x":8.9,"y":14330},{"T":"0.72 K","x":9,"y":14440},{"T":"0.72 K","x":9.1,"y":14260},{"T":"0.72 K","x":9.2,"y":13110},{"T":"0.72 K","x":9.3,"y":11580},{"T":"0.72 K","x":9.4,"y":9600},{"T":"0.72 K","x":9.5,"y":8530},{"T":"0.72 K","x":9.6,"y":7920},
{"T":"0.72 K","x":9.7,"y":7780},{"T":"0.72 K","x":9.8,"y":7640},{"T":"0.72 K","x":10,"y":7960},{"T":"0.72 K","x":10.2,"y":8130},{"T":"0.72 K","x":10.4,"y":8250},{"T":"0.72 K","x":10.6,"y":8210},{"T":"0.72 K","x":10.8,"y":8010},{"T":"0.72 K","x":11,"y":8030},{"T":"0.72 K","x":11.2,"y":7780},{"T":"0.72 K","x":11.4,"y":7790},
{"T":"0.72 K","x":11.6,"y":7610},{"T":"0.72 K","x":11.8,"y":7710},{"T":"0.72 K","x":12,"y":7620},{"T":"0.72 K","x":12.2,"y":7720},{"T":"0.72 K","x":12.4,"y":7570},{"T":"0.72 K","x":12.6,"y":7680},{"T":"0.72 K","x":12.8,"y":7600},{"T":"0.72 K","x":13,"y":7830},{"T":"0.72 K","x":13.2,"y":8260},{"T":"0.72 K","x":13.4,"y":8940},
{"T":"0.72 K","x":13.5,"y":9850},{"T":"0.72 K","x":13.6,"y":10620},{"T":"0.72 K","x":13.7,"y":11310},{"T":"0.72 K","x":13.8,"y":11480},{"T":"0.72 K","x":13.9,"y":11490},{"T":"0.72 K","x":14,"y":10770},{"T":"0.72 K","x":14.1,"y":9770},{"T":"0.72 K","x":14.2,"y":8800},{"T":"0.72 K","x":14.4,"y":8230},{"T":"0.72 K","x":14.6,"y":7910},{"T":"0.72 K","x":14.8,"y":7970},{"T":"0.72 K","x":15,"y":7870},
{"T":"0.76 K","x":7,"y":7560},{"T":"0.76 K","x":7.2,"y":7650},{"T":"0.76 K","x":7.4,"y":7600},{"T":"0.76 K","x":7.6,"y":7740},{"T":"0.76 K","x":7.8,"y":7730},{"T":"0.76 K","x":8,"y":7960},{"T":"0.76 K","x":8.2,"y":8070},{"T":"0.76 K","x":8.4,"y":9110},{"T":"0.76 K","x":8.5,"y":9680},{"T":"0.76 K","x":8.6,"y":10510},
{"T":"0.76 K","x":8.7,"y":11260},{"T":"0.76 K","x":8.8,"y":12130},{"T":"0.76 K","x":8.9,"y":12570},{"T":"0.76 K","x":9,"y":12900},{"T":"0.76 K","x":9.1,"y":12570},{"T":"0.76 K","x":9.2,"y":11870},{"T":"0.76 K","x":9.3,"y":10530},{"T":"0.76 K","x":9.4,"y":9260},{"T":"0.76 K","x":9.5,"y":8470},{"T":"0.76 K","x":9.6,"y":7960},
{"T":"0.76 K","x":9.7,"y":7880},{"T":"0.76 K","x":9.8,"y":7730},{"T":"0.76 K","x":10,"y":8030},{"T":"0.76 K","x":10.2,"y":8190},{"T":"0.76 K","x":10.4,"y":8380},{"T":"0.76 K","x":10.6,"y":8230},{"T":"0.76 K","x":10.8,"y":8220},{"T":"0.76 K","x":11,"y":7990},{"T":"0.76 K","x":11.2,"y":8020},{"T":"0.76 K","x":11.4,"y":7840},
{"T":"0.76 K","x":11.6,"y":7900},{"T":"0.76 K","x":11.8,"y":7940},{"T":"0.76 K","x":12,"y":7790},{"T":"0.76 K","x":12.2,"y":7860},{"T":"0.76 K","x":12.4,"y":7760},{"T":"0.76 K","x":12.6,"y":7910},{"T":"0.76 K","x":12.8,"y":7850},{"T":"0.76 K","x":13,"y":8070},{"T":"0.76 K","x":13.2,"y":8190},{"T":"0.76 K","x":13.4,"y":9030},
{"T":"0.76 K","x":13.5,"y":9700},{"T":"0.76 K","x":13.6,"y":10510},{"T":"0.76 K","x":13.7,"y":10850},{"T":"0.76 K","x":13.8,"y":11170},{"T":"0.76 K","x":13.9,"y":10980},{"T":"0.76 K","x":14,"y":10700},{"T":"0.76 K","x":14.1,"y":9580},{"T":"0.76 K","x":14.2,"y":8880},{"T":"0.76 K","x":14.4,"y":8220},{"T":"0.76 K","x":14.6,"y":8180},{"T":"0.76 K","x":14.8,"y":8110},{"T":"0.76 K","x":15,"y":8230},
{"T":"0.80 K","x":7,"y":7740},{"T":"0.80 K","x":7.2,"y":7650},{"T":"0.80 K","x":7.4,"y":7780},{"T":"0.80 K","x":7.6,"y":7660},{"T":"0.80 K","x":7.8,"y":7810},{"T":"0.80 K","x":8,"y":7850},{"T":"0.80 K","x":8.2,"y":8140},{"T":"0.80 K","x":8.4,"y":8530},{"T":"0.80 K","x":8.5,"y":8970},{"T":"0.80 K","x":8.6,"y":9240},
{"T":"0.80 K","x":8.7,"y":9790},{"T":"0.80 K","x":8.8,"y":10280},{"T":"0.80 K","x":8.9,"y":10440},{"T":"0.80 K","x":9,"y":10670},{"T":"0.80 K","x":9.1,"y":10420},{"T":"0.80 K","x":9.2,"y":10100},{"T":"0.80 K","x":9.3,"y":9340},{"T":"0.80 K","x":9.4,"y":8770},{"T":"0.80 K","x":9.5,"y":8250},{"T":"0.80 K","x":9.6,"y":8130},
{"T":"0.80 K","x":9.7,"y":7910},{"T":"0.80 K","x":9.8,"y":8020},{"T":"0.80 K","x":10,"y":8070},{"T":"0.80 K","x":10.2,"y":8370},{"T":"0.80 K","x":10.4,"y":8510},{"T":"0.80 K","x":10.6,"y":8330},{"T":"0.80 K","x":10.8,"y":8310},{"T":"0.80 K","x":11,"y":8130},{"T":"0.80 K","x":11.2,"y":8210},{"T":"0.80 K","x":11.4,"y":8070},
{"T":"0.80 K","x":11.6,"y":8160},{"T":"0.80 K","x":11.8,"y":7970},{"T":"0.80 K","x":12,"y":8100},{"T":"0.80 K","x":12.2,"y":8050},{"T":"0.80 K","x":12.4,"y":8130},{"T":"0.80 K","x":12.6,"y":8020},{"T":"0.80 K","x":12.8,"y":8130},{"T":"0.80 K","x":13,"y":8110},{"T":"0.80 K","x":13.2,"y":8520},{"T":"0.80 K","x":13.4,"y":8930},
{"T":"0.80 K","x":13.5,"y":9570},{"T":"0.80 K","x":13.6,"y":10050},{"T":"0.80 K","x":13.7,"y":10550},{"T":"0.80 K","x":13.8,"y":10670},{"T":"0.80 K","x":13.9,"y":10700},{"T":"0.80 K","x":14,"y":10170},{"T":"0.80 K","x":14.1,"y":9520},{"T":"0.80 K","x":14.2,"y":8830},{"T":"0.80 K","x":14.4,"y":8510},{"T":"0.80 K","x":14.6,"y":8310},{"T":"0.80 K","x":14.8,"y":8410},{"T":"0.80 K","x":15,"y":8290},
{"T":"0.82 K","x":7,"y":7710},{"T":"0.82 K","x":7.2,"y":7800},{"T":"0.82 K","x":7.4,"y":7700},{"T":"0.82 K","x":7.6,"y":7790},{"T":"0.82 K","x":7.8,"y":7910},{"T":"0.82 K","x":8,"y":7880},{"T":"0.82 K","x":8.2,"y":8120},{"T":"0.82 K","x":8.4,"y":8310},{"T":"0.82 K","x":8.5,"y":8650},{"T":"0.82 K","x":8.6,"y":8800},
{"T":"0.82 K","x":8.7,"y":9260},{"T":"0.82 K","x":8.8,"y":9480},{"T":"0.82 K","x":8.9,"y":9750},{"T":"0.82 K","x":9,"y":9700},{"T":"0.82 K","x":9.1,"y":9730},{"T":"0.82 K","x":9.2,"y":9340},{"T":"0.82 K","x":9.3,"y":9030},{"T":"0.82 K","x":9.4,"y":8630},{"T":"0.82 K","x":9.5,"y":8200},{"T":"0.82 K","x":9.6,"y":8130},
{"T":"0.82 K","x":9.7,"y":8000},{"T":"0.82 K","x":9.8,"y":8160},{"T":"0.82 K","x":10,"y":8220},{"T":"0.82 K","x":10.2,"y":8500},{"T":"0.82 K","x":10.4,"y":8400},{"T":"0.82 K","x":10.6,"y":8520},{"T":"0.82 K","x":10.8,"y":8380},{"T":"0.82 K","x":11,"y":8400},{"T":"0.82 K","x":11.2,"y":8220},{"T":"0.82 K","x":11.4,"y":8280},
{"T":"0.82 K","x":11.6,"y":8150},{"T":"0.82 K","x":11.8,"y":8320},{"T":"0.82 K","x":12,"y":8180},{"T":"0.82 K","x":12.2,"y":8250},{"T":"0.82 K","x":12.4,"y":8160},{"T":"0.82 K","x":12.6,"y":8300},{"T":"0.82 K","x":12.8,"y":8260},{"T":"0.82 K","x":13,"y":8420},{"T":"0.82 K","x":13.2,"y":8410},{"T":"0.82 K","x":13.4,"y":8950},
{"T":"0.82 K","x":13.5,"y":9290},{"T":"0.82 K","x":13.6,"y":9820},{"T":"0.82 K","x":13.7,"y":10020},{"T":"0.82 K","x":13.8,"y":10270},{"T":"0.82 K","x":13.9,"y":10080},{"T":"0.82 K","x":14,"y":9920},{"T":"0.82 K","x":14.1,"y":9280},{"T":"0.82 K","x":14.2,"y":8940},{"T":"0.82 K","x":14.4,"y":8480},{"T":"0.82 K","x":14.6,"y":8480},{"T":"0.82 K","x":14.8,"y":8430},{"T":"0.82 K","x":15,"y":8590},
{"T":"0.84 K","x":7,"y":7730},{"T":"0.84 K","x":7.2,"y":7820},{"T":"0.84 K","x":7.4,"y":7730},{"T":"0.84 K","x":7.6,"y":7890},{"T":"0.84 K","x":7.8,"y":7860},{"T":"0.84 K","x":8,"y":8010},{"T":"0.84 K","x":8.2,"y":7950},{"T":"0.84 K","x":8.4,"y":8240},{"T":"0.84 K","x":8.5,"y":8240},{"T":"0.84 K","x":8.6,"y":8470},
{"T":"0.84 K","x":8.7,"y":8710},{"T":"0.84 K","x":8.8,"y":8710},{"T":"0.84 K","x":8.9,"y":8870},{"T":"0.84 K","x":9,"y":8840},{"T":"0.84 K","x":9.1,"y":8950},{"T":"0.84 K","x":9.2,"y":8730},{"T":"0.84 K","x":9.3,"y":8660},{"T":"0.84 K","x":9.4,"y":8260},{"T":"0.84 K","x":9.5,"y":8270},{"T":"0.84 K","x":9.6,"y":8160},
{"T":"0.84 K","x":9.7,"y":8240},{"T":"0.84 K","x":9.8,"y":8140},{"T":"0.84 K","x":10,"y":8380},{"T":"0.84 K","x":10.2,"y":8420},{"T":"0.84 K","x":10.4,"y":8700},{"T":"0.84 K","x":10.6,"y":8560},{"T":"0.84 K","x":10.8,"y":8540},{"T":"0.84 K","x":11,"y":8380},{"T":"0.84 K","x":11.2,"y":8450},{"T":"0.84 K","x":11.4,"y":8370},
{"T":"0.84 K","x":11.6,"y":8450},{"T":"0.84 K","x":11.8,"y":8280},{"T":"0.84 K","x":12,"y":8400},{"T":"0.84 K","x":12.2,"y":8330},{"T":"0.84 K","x":12.4,"y":8450},{"T":"0.84 K","x":12.6,"y":8380},{"T":"0.84 K","x":12.8,"y":8510},{"T":"0.84 K","x":13,"y":8420},{"T":"0.84 K","x":13.2,"y":8640},{"T":"0.84 K","x":13.4,"y":8880},
{"T":"0.84 K","x":13.5,"y":9290},{"T":"0.84 K","x":13.6,"y":9440},{"T":"0.84 K","x":13.7,"y":9740},{"T":"0.84 K","x":13.8,"y":9780},{"T":"0.84 K","x":13.9,"y":9890},{"T":"0.84 K","x":14,"y":9580},{"T":"0.84 K","x":14.1,"y":9270},{"T":"0.84 K","x":14.2,"y":8830},{"T":"0.84 K","x":14.4,"y":8680},{"T":"0.84 K","x":14.6,"y":8680},{"T":"0.84 K","x":14.8,"y":8610},{"T":"0.84 K","x":15,"y":8760},
{"T":"0.90 K","x":7,"y":7890},{"T":"0.90 K","x":7.2,"y":7760},{"T":"0.90 K","x":7.4,"y":7890},{"T":"0.90 K","x":7.6,"y":7980},{"T":"0.90 K","x":7.8,"y":7870},{"T":"0.90 K","x":8,"y":7970},{"T":"0.90 K","x":8.2,"y":7950},{"T":"0.90 K","x":8.4,"y":8180},{"T":"0.90 K","x":8.5,"y":8160},{"T":"0.90 K","x":8.6,"y":8350},
{"T":"0.90 K","x":8.7,"y":8260},{"T":"0.90 K","x":8.8,"y":8480},{"T":"0.90 K","x":8.9,"y":8480},{"T":"0.90 K","x":9,"y":8610},{"T":"0.90 K","x":9.1,"y":8480},{"T":"0.90 K","x":9.2,"y":8530},{"T":"0.90 K","x":9.3,"y":8340},{"T":"0.90 K","x":9.4,"y":8430},{"T":"0.90 K","x":9.5,"y":8240},{"T":"0.90 K","x":9.6,"y":8270},
{"T":"0.90 K","x":9.7,"y":8210},{"T":"0.90 K","x":9.8,"y":8350},{"T":"0.90 K","x":10,"y":8440},{"T":"0.90 K","x":10.2,"y":8680},{"T":"0.90 K","x":10.4,"y":8630},{"T":"0.90 K","x":10.6,"y":8780},{"T":"0.90 K","x":10.8,"y":8600},{"T":"0.90 K","x":11,"y":8620},{"T":"0.90 K","x":11.2,"y":8490},{"T":"0.90 K","x":11.4,"y":8580},
{"T":"0.90 K","x":11.6,"y":8420},{"T":"0.90 K","x":11.8,"y":8520},{"T":"0.90 K","x":12,"y":8450},{"T":"0.90 K","x":12.2,"y":8560},{"T":"0.90 K","x":12.4,"y":8420},{"T":"0.90 K","x":12.6,"y":8520},{"T":"0.90 K","x":12.8,"y":8480},{"T":"0.90 K","x":13,"y":8670},{"T":"0.90 K","x":13.2,"y":8630},{"T":"0.90 K","x":13.4,"y":8950},
{"T":"0.90 K","x":13.5,"y":9030},{"T":"0.90 K","x":13.6,"y":9320},{"T":"0.90 K","x":13.7,"y":9530},{"T":"0.90 K","x":13.8,"y":9500},{"T":"0.90 K","x":13.9,"y":9600},{"T":"0.90 K","x":14,"y":9330},{"T":"0.90 K","x":14.1,"y":9150},{"T":"0.90 K","x":14.2,"y":8810},{"T":"0.90 K","x":14.4,"y":8800},{"T":"0.90 K","x":14.6,"y":8730},{"T":"0.90 K","x":14.8,"y":8850},{"T":"0.90 K","x":15,"y":8740},
{"T":"1.00 K","x":7,"y":7960},{"T":"1.00 K","x":7.2,"y":7860},{"T":"1.00 K","x":7.4,"y":8000},{"T":"1.00 K","x":7.6,"y":7850},{"T":"1.00 K","x":7.8,"y":8020},{"T":"1.00 K","x":8,"y":7980},{"T":"1.00 K","x":8.2,"y":8110},{"T":"1.00 K","x":8.4,"y":8010},{"T":"1.00 K","x":8.5,"y":8120},{"T":"1.00 K","x":8.6,"y":8030},
{"T":"1.00 K","x":8.7,"y":8230},{"T":"1.00 K","x":8.8,"y":8110},{"T":"1.00 K","x":8.9,"y":8190},{"T":"1.00 K","x":9,"y":8130},{"T":"1.00 K","x":9.1,"y":8270},{"T":"1.00 K","x":9.2,"y":8230},{"T":"1.00 K","x":9.3,"y":8340},{"T":"1.00 K","x":9.4,"y":8190},{"T":"1.00 K","x":9.5,"y":8330},{"T":"1.00 K","x":9.6,"y":8270},
{"T":"1.00 K","x":9.7,"y":8400},{"T":"1.00 K","x":9.8,"y":8340},{"T":"1.00 K","x":10,"y":8590},{"T":"1.00 K","x":10.2,"y":8590},{"T":"1.00 K","x":10.4,"y":8820},{"T":"1.00 K","x":10.6,"y":8790},{"T":"1.00 K","x":10.8,"y":8790},{"T":"1.00 K","x":11,"y":8550},{"T":"1.00 K","x":11.2,"y":8590},{"T":"1.00 K","x":11.4,"y":8510},
{"T":"1.00 K","x":11.6,"y":8640},{"T":"1.00 K","x":11.8,"y":8510},{"T":"1.00 K","x":12,"y":8610},{"T":"1.00 K","x":12.2,"y":8490},{"T":"1.00 K","x":12.4,"y":8570},{"T":"1.00 K","x":12.6,"y":8640},{"T":"1.00 K","x":12.8,"y":8560},{"T":"1.00 K","x":13,"y":8710},{"T":"1.00 K","x":13.2,"y":8630},{"T":"1.00 K","x":13.4,"y":8880},
{"T":"1.00 K","x":13.5,"y":8910},{"T":"1.00 K","x":13.6,"y":9200},{"T":"1.00 K","x":13.7,"y":9230},{"T":"1.00 K","x":13.8,"y":9370},{"T":"1.00 K","x":13.9,"y":9230},{"T":"1.00 K","x":14,"y":9250},{"T":"1.00 K","x":14.1,"y":8950},{"T":"1.00 K","x":14.2,"y":8910},{"T":"1.00 K","x":14.4,"y":8890},{"T":"1.00 K","x":14.6,"y":8770},{"T":"1.00 K","x":14.8,"y":8860},{"T":"1.00 K","x":15,"y":8810}
 ]
},
"spacing": 4,
"resolve": {"scale": {"color": "independent", "x": "independent", "y": "independent"}, "legend": {"color": "independent"}},
"vconcat": [
 {
  "width": 198, "height": 116,
  "layer": [
   {"data": {"name": "dy"}, "mark": {"type": "line", "strokeWidth": 1.3, "clip": true},
    "encoding": {
     "x": {"field": "x", "type": "quantitative", "scale": {"domain": [15, 20], "nice": false, "zero": false},
       "axis": {"orient": "bottom", "values": [15, 16, 17, 18, 19, 20], "tickSize": -5, "labelPadding": 9, "title": "2θ (degrees)", "titlePadding": 9}},
     "y": {"field": "y", "type": "quantitative", "scale": {"domain": [1200, 3200], "nice": false, "zero": false},
       "axis": {"orient": "left", "values": [1200, 1600, 2000, 2400, 2800, 3200], "format": "d", "tickSize": -5, "labelPadding": 10, "title": "Intensity (norm. counts)", "titlePadding": 24}},
     "color": {"field": "T", "type": "nominal",
       "scale": {"domain": ["0.07 K", "0.40 K", "0.42 K", "0.44 K", "0.46 K", "0.48 K", "0.50 K", "0.75 K", "1.00 K"],
                 "range": ["#14219b", "#1f5ae8", "#4ba3dc", "#66d05a", "#ffa030", "#f48cf0", "#e8196f", "#ff4010", "#5c0f0f"]},
       "legend": {"orient": "none", "legendX": 208, "legendY": 5.4, "title": null}}
    }},
   {"data": {"name": "dyframe"}, "mark": {"type": "point", "opacity": 0},
    "encoding": {
     "x": {"field": "x", "type": "quantitative", "axis": {"orient": "top", "values": [15, 16, 17, 18, 19, 20], "tickSize": -5, "labels": false, "title": null}},
     "y": {"field": "y", "type": "quantitative", "axis": {"orient": "right", "values": [1200, 1600, 2000, 2400, 2800, 3200], "tickSize": -5, "labels": false, "title": null}}
    }},
   {"data": {"name": "dyframe"}, "mark": {"type": "point", "opacity": 0},
    "encoding": {
     "x": {"field": "x", "type": "quantitative", "axis": {"orient": "bottom", "values": [15.2, 15.4, 15.6, 15.8, 16.2, 16.4, 16.6, 16.8, 17.2, 17.4, 17.6, 17.8, 18.2, 18.4, 18.6, 18.8, 19.2, 19.4, 19.6, 19.8], "tickSize": -3, "labels": false, "title": null}},
     "y": {"field": "y", "type": "quantitative", "axis": {"orient": "left", "values": [1300, 1400, 1500, 1700, 1800, 1900, 2100, 2200, 2300, 2500, 2600, 2700, 2900, 3000, 3100], "tickSize": -3, "labels": false, "title": null}}
    }},
   {"data": {"name": "dyframe"}, "mark": {"type": "point", "opacity": 0},
    "encoding": {
     "x": {"field": "x", "type": "quantitative", "axis": {"orient": "top", "values": [15.2, 15.4, 15.6, 15.8, 16.2, 16.4, 16.6, 16.8, 17.2, 17.4, 17.6, 17.8, 18.2, 18.4, 18.6, 18.8, 19.2, 19.4, 19.6, 19.8], "tickSize": -3, "labels": false, "title": null}},
     "y": {"field": "y", "type": "quantitative", "axis": {"orient": "right", "values": [1300, 1400, 1500, 1700, 1800, 1900, 2100, 2200, 2300, 2500, 2600, 2700, 2900, 3000, 3100], "tickSize": -3, "labels": false, "title": null}}
    }},
   {"data": {"name": "dyname"}, "mark": {"type": "text", "align": "left", "baseline": "middle", "fontSize": 14, "font": "Liberation Serif", "color": "black"},
    "encoding": {"x": {"field": "x", "type": "quantitative", "axis": null}, "y": {"field": "y", "type": "quantitative", "axis": null}, "text": {"field": "label"}}},
   {"data": {"name": "dylab"}, "mark": {"type": "text", "align": "left", "baseline": "middle", "fontSize": 10.5, "font": "Liberation Serif", "color": "black"},
    "encoding": {"x": {"field": "x", "type": "quantitative", "axis": null}, "y": {"field": "y", "type": "quantitative", "axis": null}, "text": {"field": "label"}}},
   {"data": {"name": "dyarr"}, "mark": {"type": "rule", "color": "black", "strokeWidth": 0.9},
    "encoding": {"x": {"field": "x", "type": "quantitative", "axis": null}, "y": {"field": "y", "type": "quantitative", "axis": null}, "x2": {"field": "x2"}, "y2": {"field": "y2"}}},
   {"data": {"name": "dyarr"}, "mark": {"type": "point", "shape": "triangle-up", "filled": true, "color": "black", "opacity": 1, "size": 14, "angle": 220},
    "encoding": {"x": {"field": "x2", "type": "quantitative", "axis": null}, "y": {"field": "y2", "type": "quantitative", "axis": null}}}
  ],
  "resolve": {"axis": {"x": "independent", "y": "independent"}}
 },
 {
  "width": 198, "height": 118,
  "layer": [
   {"data": {"name": "ho"}, "mark": {"type": "line", "strokeWidth": 1.3, "clip": true},
    "encoding": {
     "x": {"field": "x", "type": "quantitative", "scale": {"domain": [7, 15], "nice": false, "zero": false},
       "axis": {"orient": "bottom", "values": [7, 8, 9, 10, 11, 12, 13, 14, 15], "tickSize": -5, "labelPadding": 9, "title": "2θ (degrees)", "titlePadding": 9}},
     "y": {"field": "y", "type": "quantitative", "scale": {"domain": [6000, 18000], "nice": false, "zero": false},
       "axis": {"orient": "left", "values": [6000, 10000, 14000, 18000], "tickSize": -5, "labelPadding": 10, "title": "Intensity (norm. counts)", "titlePadding": 11,
         "labelExpr": "datum.value == 6000 ? '6·10³' : datum.value == 10000 ? '1·10⁴' : datum.value == 14000 ? '1.4·10⁴' : '1.8·10⁴'"}},
     "color": {"field": "T", "type": "nominal",
       "scale": {"domain": ["0.50 K", "0.60 K", "0.64 K", "0.68 K", "0.72 K", "0.76 K", "0.80 K", "0.82 K", "0.84 K", "0.90 K", "1.00 K"],
                 "range": ["#14219b", "#1f5ae8", "#4ba3dc", "#66d05a", "#ffd000", "#ffa030", "#f48cf0", "#e8196f", "#ff4010", "#c00000", "#5c0f0f"]},
       "legend": {"orient": "none", "legendX": 208, "legendY": -4.6, "title": null}}
    }},
   {"data": {"name": "hoframe"}, "mark": {"type": "point", "opacity": 0},
    "encoding": {
     "x": {"field": "x", "type": "quantitative", "axis": {"orient": "top", "values": [7, 8, 9, 10, 11, 12, 13, 14, 15], "tickSize": -5, "labels": false, "title": null}},
     "y": {"field": "y", "type": "quantitative", "axis": {"orient": "right", "values": [6000, 10000, 14000, 18000], "tickSize": -5, "labels": false, "title": null}}
    }},
   {"data": {"name": "hoframe"}, "mark": {"type": "point", "opacity": 0},
    "encoding": {
     "x": {"field": "x", "type": "quantitative", "axis": {"orient": "bottom", "values": [7.2, 7.4, 7.6, 7.8, 8.2, 8.4, 8.6, 8.8, 9.2, 9.4, 9.6, 9.8, 10.2, 10.4, 10.6, 10.8, 11.2, 11.4, 11.6, 11.8, 12.2, 12.4, 12.6, 12.8, 13.2, 13.4, 13.6, 13.8, 14.2, 14.4, 14.6, 14.8], "tickSize": -3, "labels": false, "title": null}},
     "y": {"field": "y", "type": "quantitative", "axis": {"orient": "left", "values": [7000, 8000, 9000, 11000, 12000, 13000, 15000, 16000, 17000], "tickSize": -3, "labels": false, "title": null}}
    }},
   {"data": {"name": "hoframe"}, "mark": {"type": "point", "opacity": 0},
    "encoding": {
     "x": {"field": "x", "type": "quantitative", "axis": {"orient": "top", "values": [7.2, 7.4, 7.6, 7.8, 8.2, 8.4, 8.6, 8.8, 9.2, 9.4, 9.6, 9.8, 10.2, 10.4, 10.6, 10.8, 11.2, 11.4, 11.6, 11.8, 12.2, 12.4, 12.6, 12.8, 13.2, 13.4, 13.6, 13.8, 14.2, 14.4, 14.6, 14.8], "tickSize": -3, "labels": false, "title": null}},
     "y": {"field": "y", "type": "quantitative", "axis": {"orient": "right", "values": [7000, 8000, 9000, 11000, 12000, 13000, 15000, 16000, 17000], "tickSize": -3, "labels": false, "title": null}}
    }},
   {"data": {"name": "honame"}, "mark": {"type": "text", "align": "left", "baseline": "middle", "fontSize": 14, "font": "Liberation Serif", "color": "black"},
    "encoding": {"x": {"field": "x", "type": "quantitative", "axis": null}, "y": {"field": "y", "type": "quantitative", "axis": null}, "text": {"field": "label"}}},
   {"data": {"name": "holab"}, "mark": {"type": "text", "align": "left", "baseline": "middle", "fontSize": 10.5, "font": "Liberation Serif", "color": "black"},
    "encoding": {"x": {"field": "x", "type": "quantitative", "axis": null}, "y": {"field": "y", "type": "quantitative", "axis": null}, "text": {"field": "label"}}},
   {"data": {"name": "hoarr"}, "mark": {"type": "rule", "color": "black", "strokeWidth": 0.9},
    "encoding": {"x": {"field": "x", "type": "quantitative", "axis": null}, "y": {"field": "y", "type": "quantitative", "axis": null}, "x2": {"field": "x2"}, "y2": {"field": "y2"}}},
   {"data": {"name": "hoarr"}, "mark": {"type": "point", "shape": "triangle-up", "filled": true, "color": "black", "opacity": 1, "size": 14, "angle": 223},
    "encoding": {"x": {"field": "x2", "type": "quantitative", "axis": null}, "y": {"field": "y2", "type": "quantitative", "axis": null}}}
  ],
  "resolve": {"axis": {"x": "independent", "y": "independent"}}
 }
]
}
